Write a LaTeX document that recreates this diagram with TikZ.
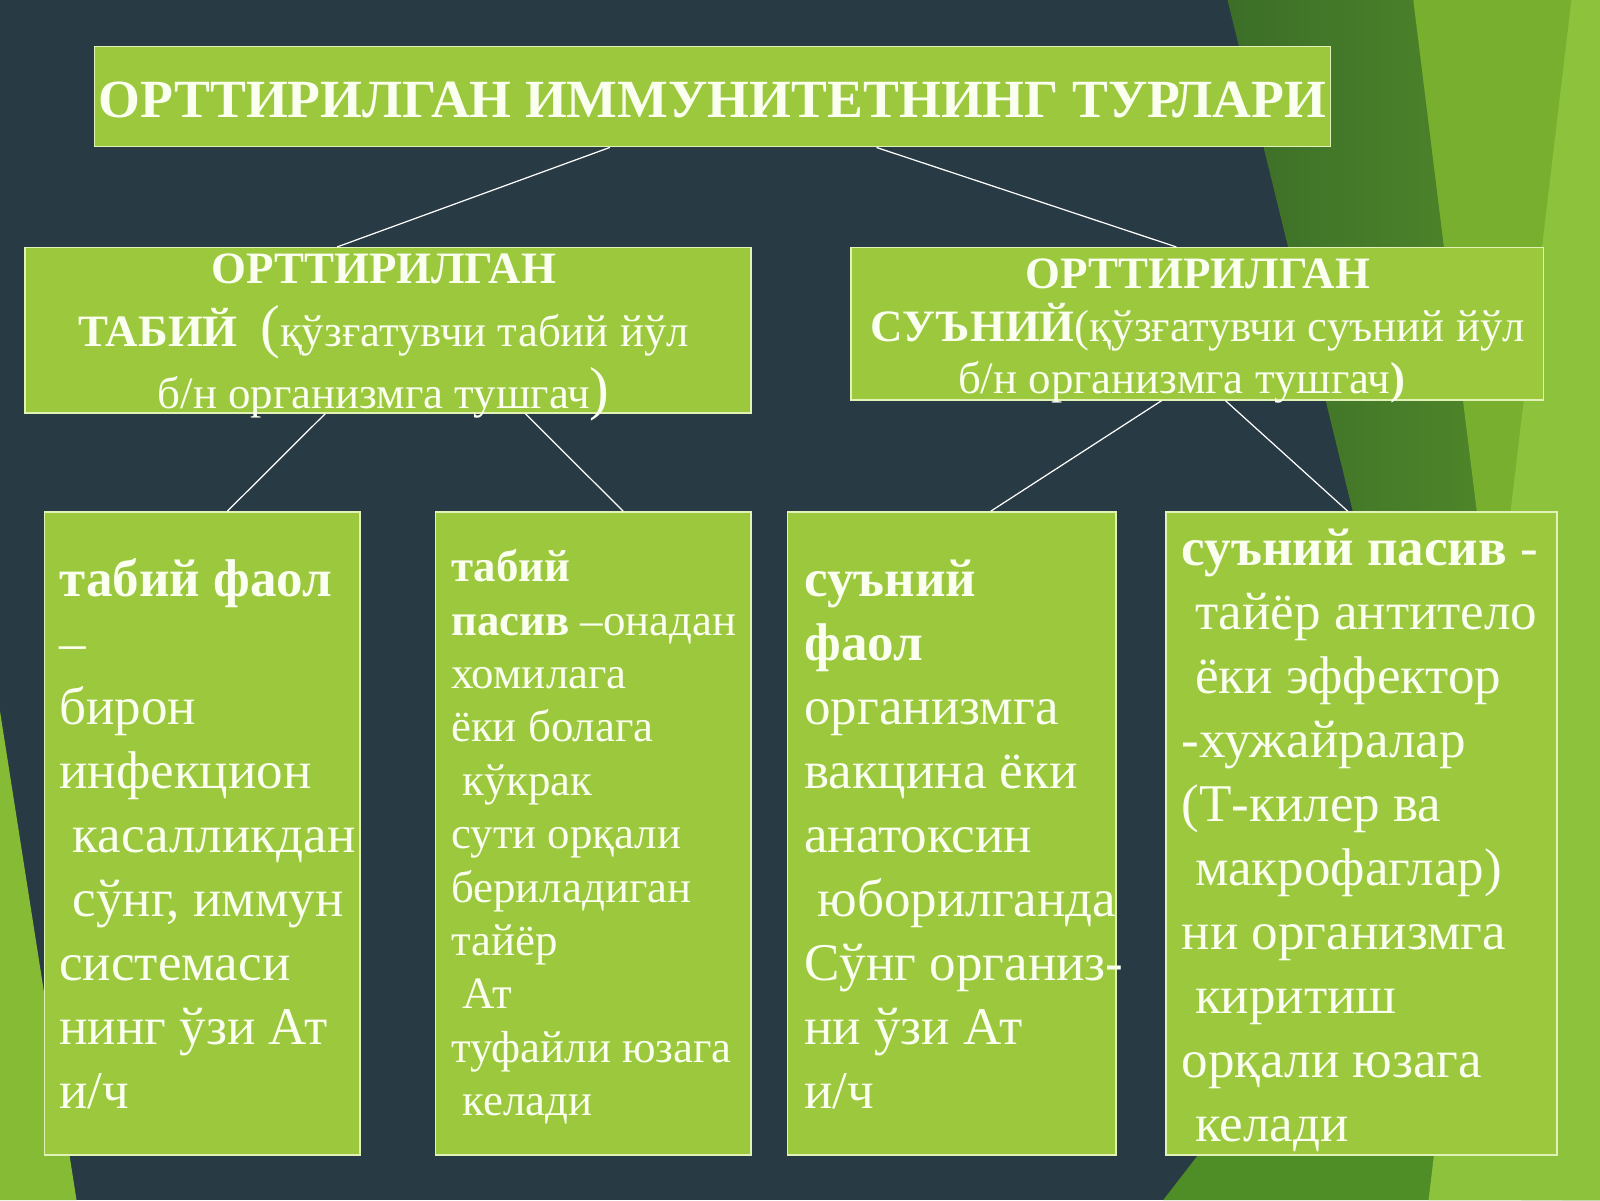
\documentclass[tikz,border=0pt]{standalone}
\usepackage{fontspec}
\setmainfont{Liberation Serif}
\usetikzlibrary{calc}
\definecolor{navy}{HTML}{283A43}
\definecolor{boxgreen}{HTML}{9BC83D}
\definecolor{boxline}{HTML}{E2F1B5}
\definecolor{dkgreenA}{HTML}{3C6E28}
\definecolor{dkgreenB}{HTML}{56902A}
\definecolor{midgreen}{HTML}{79AF2F}
\definecolor{botgreen}{HTML}{4F8D26}
\definecolor{ltgreen}{HTML}{8DC23C}
\definecolor{leftgreen}{HTML}{86BB36}
\definecolor{textwhite}{HTML}{FAFFF0}
\newcommand{\ind}{\hspace*{0.25em}}
\newcommand{\fl}{\rule{0pt}{60pt}}
\begin{document}
\begin{tikzpicture}[x=1pt,y=-1pt,
  box/.style={draw=boxline, line width=1.5pt, fill=boxgreen, anchor=north west, inner sep=0pt},
  txt/.style={text=textwhite, inner sep=0pt, align=left, anchor=north west},
  ctxt/.style={text=textwhite, inner sep=0pt, align=center, anchor=north},
  conn/.style={draw=white, line width=1.2pt}]
\useasboundingbox (0,0) rectangle (1568,1176);
% background
\fill[navy] (0,0) rectangle (1568,1176);
\fill[leftgreen] (0,697) -- (75,1176) -- (0,1176) -- cycle;
\shade[left color=dkgreenA, right color=dkgreenB] (1203,0) -- (1568,0) -- (1568,1176) -- (1491,1176) -- cycle;
\fill[midgreen] (1385,0) -- (1568,0) -- (1568,1176) -- (1531,1176) -- cycle;
\fill[botgreen] (1140,1176) -- (1330,930) -- (1568,930) -- (1568,1176) -- cycle;
\fill[ltgreen] (1540,0) -- (1568,0) -- (1568,1176) -- (1400,1176) -- cycle;
% boxes
\node[box, minimum width=1211pt, minimum height=98pt] (top) at (92,45) {};
\node[box, minimum width=711pt, minimum height=162pt] (lm) at (24,242) {};
\node[box, minimum width=679pt, minimum height=149pt] (rm) at (833,242) {};
\node[box, minimum width=309pt, minimum height=630pt] (b1) at (43,501) {};
\node[box, minimum width=309pt, minimum height=630pt] (b2) at (426,501) {};
\node[box, minimum width=322pt, minimum height=630pt] (b3) at (771,501) {};
\node[box, minimum width=383pt, minimum height=630pt] (b4) at (1142,501) {};
% connectors
\draw[conn] ($(top.south west)!0.417!(top.south east)$) -- ($(lm.north west)!0.430!(lm.north east)$);
\draw[conn] ($(top.south west)!0.6325!(top.south east)$) -- ($(rm.north west)!0.470!(rm.north east)$);
\draw[conn] ($(lm.south west)!0.4135!(lm.south east)$) -- ($(b1.north west)!0.579!(b1.north east)$);
\draw[conn] ($(lm.south west)!0.689!(lm.south east)$) -- ($(b2.north west)!0.595!(b2.north east)$);
\draw[conn] ($(rm.south west)!0.449!(rm.south east)$) -- ($(b3.north west)!0.618!(b3.north east)$);
\draw[conn] ($(rm.south west)!0.5405!(rm.south east)$) -- ($(b4.north west)!0.465!(b4.north east)$);
% texts
\node[text=textwhite, inner sep=0pt, font=\bfseries\fontsize{52.7}{60}\selectfont] (title) at ($(top.center)+(0,3)$) {ОРТТИРИЛГАН ИММУНИТЕТНИНГ ТУРЛАРИ};
\node[ctxt, font=\fontsize{44}{61.5}\selectfont] (lmt) at (376,217.5) {\fl\textbf{ОРТТИРИЛГАН}\\ \textbf{ТАБИЙ}\ \ {\fontsize{58}{61.5}\selectfont(}қўзғатувчи табий йўл\\ б/н организмга тушгач{\fontsize{58}{61.5}\selectfont)}};
\node[ctxt, font=\fontsize{44}{51.5}\selectfont] (rmt) at (1174,222.5) {\fl\textbf{ОРТТИРИЛГАН}\\ \textbf{СУЪНИЙ}(қўзғатувчи суъний йўл\\ б/н организмга тушгач\textbf{)}\hspace*{32pt}};
\node[txt, font=\fontsize{52}{62.75}\selectfont] (t1) at (58,524) {\fl\textbf{табий фаол}\\–\\бирон\\инфекцион\\\ind касалликдан\\\ind сўнг, иммун\\системаси\\нинг ўзи Ат\\и/ч};
\node[txt, font=\fontsize{44}{52.3}\selectfont] (t2) at (442,510) {\fl\textbf{табий}\\\textbf{пасив} –онадан\\хомилага\\ёки болага\\\ind кўкрак\\сути орқали\\бериладиган\\тайёр\\\ind Ат\\туфайли юзага\\\ind келади};
\node[txt, font=\fontsize{52}{62.75}\selectfont] (t3) at (788,524) {\fl\textbf{суъний}\\\textbf{фаол}\\организмга\\вакцина ёки\\анатоксин\\\ind юборилганда\\Сўнг организ-\\ни ўзи Ат\\и/ч};
\node[txt, font=\fontsize{52}{62.7}\selectfont] (t4) at (1158,494) {\fl\textbf{суъний пасив} -\\\ind тайёр антитело\\\ind ёки эффектор\\-хужайралар\\(Т-килер ва\\\ind макрофаглар)\\ни организмга\\\ind киритиш\\орқали юзага\\\ind келади};
\end{tikzpicture}
\end{document}
